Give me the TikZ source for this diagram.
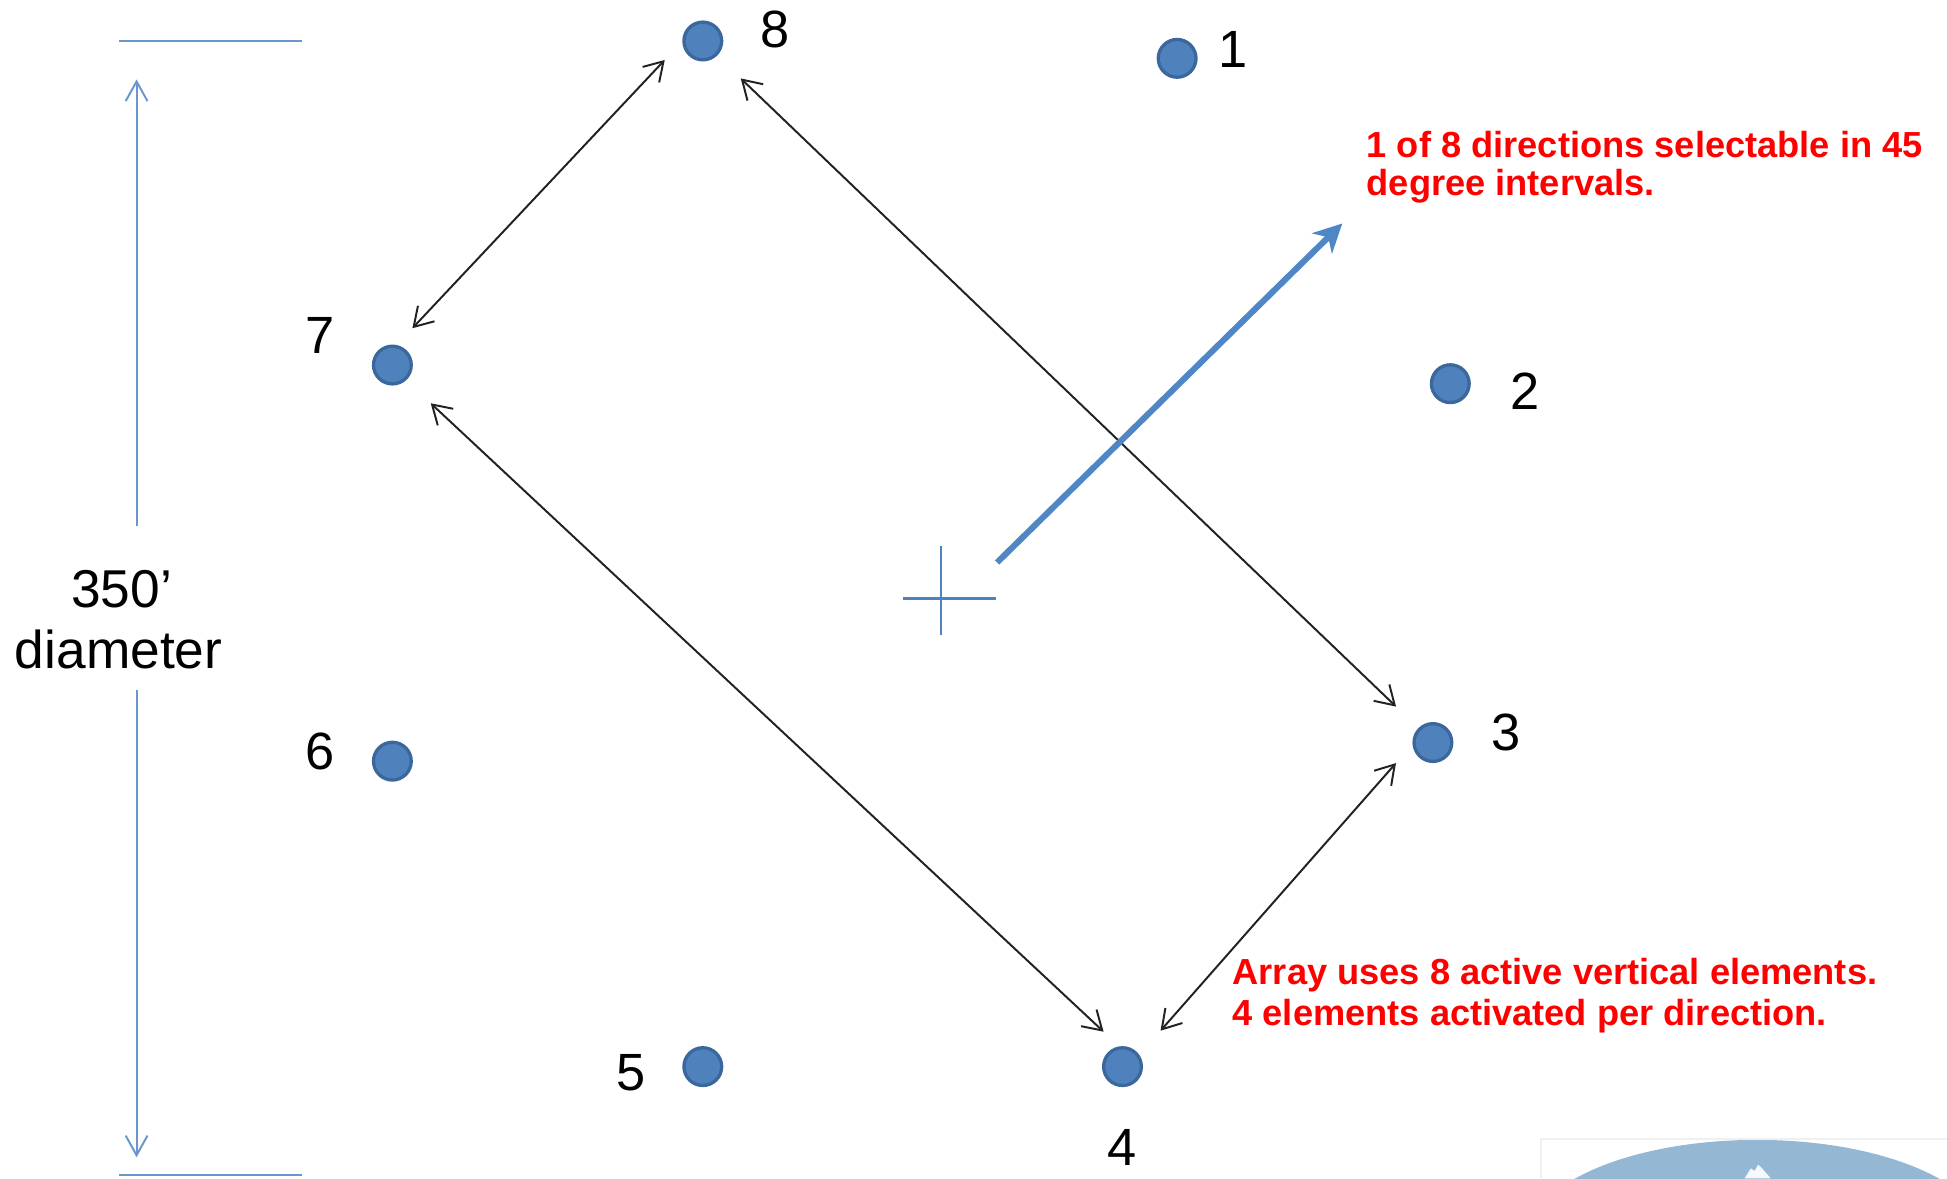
\documentclass[tikz,border=0pt]{standalone}
\usepackage{fontspec}
\setmainfont{Liberation Sans}
\usetikzlibrary{arrows.meta}
\definecolor{dotfill}{HTML}{4F81BD}
\definecolor{dotline}{HTML}{3A679C}
\definecolor{dimblue}{HTML}{6A96CE}
\definecolor{bigblue}{HTML}{4F86C6}
\definecolor{arrowgray}{HTML}{222222}
\definecolor{pictblue}{HTML}{94B7D4}
\definecolor{redtext}{HTML}{FF0000}
\tikzset{
  dotnode/.style={circle, fill=dotfill, draw=dotline, line width=0.75pt, minimum size=0.304cm, inner sep=0pt},
  numlabel/.style={font=\fontsize{12pt}{14pt}\selectfont, inner sep=0pt, text=black},
  dimtext/.style={font=\fontsize{12.2pt}{14pt}\selectfont, inner sep=0pt, text=black, anchor=base},
  redline/.style={font=\fontsize{8.3pt}{9.5pt}\selectfont\bfseries, inner sep=0pt, text=redtext, anchor=base west},
  dblarrow/.style={draw=arrowgray, line width=0.45pt, {Straight Barb[length=4.2pt,width=5.2pt]}-{Straight Barb[length=4.2pt,width=5.2pt]}},
  dimline/.style={draw=dimblue, line width=0.45pt},
  dimarrow/.style={draw=dimblue, line width=0.45pt, -{Straight Barb[length=4.5pt,width=5pt]}},
  crossline/.style={draw=dotfill, line width=0.5pt},
  bigarrow/.style={draw=bigblue, line width=1.4pt, -{Stealth[length=6.5pt,width=6.5pt,inset=2pt]}}
}
\begin{document}
\begin{tikzpicture}[x=0.01cm,y=-0.01cm]
\useasboundingbox (0,0) rectangle (1568,949);
% partial picture at bottom right
\begin{scope}
\clip (1241,917) rectangle (1568,949);
\fill[pictblue] (1415,998) ellipse [x radius=185, y radius=80];
\fill[white!92!pictblue] (1405,949) -- (1410,941) -- (1413,943) -- (1416,938) -- (1420,942) -- (1426,949) -- cycle;
\end{scope}
\draw[gray!12, line width=0.4pt] (1241,949) -- (1241,917) -- (1568,917);
% dimension
\coordinate (dimtopL) at (96,33);
\coordinate (dimtopR) at (243,33);
\coordinate (dimbotL) at (96,946);
\coordinate (dimbotR) at (243,946);
\coordinate (dimupS) at (110,424);
\coordinate (dimupE) at (110,64);
\coordinate (dimdnS) at (110,556);
\coordinate (dimdnE) at (110,932);
\draw[dimline] (dimtopL) -- (dimtopR);
\draw[dimline] (dimbotL) -- (dimbotR);
\draw[dimarrow] (dimupS) -- (dimupE);
\draw[dimarrow] (dimdnS) -- (dimdnE);
\node[dimtext] (t350) at (98,489) {350’};
\node[dimtext] (tdiam) at (95.5,538) {diameter};
% dots
\node[dotnode] (d1) at (948,47) {};
\node[dotnode] (d2) at (1168,309) {};
\node[dotnode] (d3) at (1154,598) {};
\node[dotnode] (d4) at (904,859) {};
\node[dotnode] (d5) at (566,859) {};
\node[dotnode] (d6) at (316,613) {};
\node[dotnode] (d7) at (316,294) {};
\node[dotnode] (d8) at (566,33) {};
% labels
\node[numlabel] (l1) at (993,40) {1};
\node[numlabel] (l2) at (1228,315) {2};
\node[numlabel] (l3) at (1213,590) {3};
\node[numlabel] (l4) at (904,924) {4};
\node[numlabel] (l5) at (508,864) {5};
\node[numlabel] (l6) at (258,605) {6};
\node[numlabel] (l7) at (258,270) {7};
\node[numlabel] (l8) at (624,24) {8};
% double arrows
\draw[dblarrow, shorten <=0.185cm, shorten >=0.206cm] (d7.78.3) -- (d8.181.1);
\draw[dblarrow, shorten <=0.264cm, shorten >=0.249cm] (d8.314.3) -- (d3.135.2);
\draw[dblarrow, shorten <=0.271cm, shorten >=0.173cm] (d7.312.8) -- (d4.99.3);
\draw[dblarrow, shorten <=0.201cm, shorten >=0.259cm] (d3.185.6) -- (d4.35.3);
% centre cross
\coordinate (cxL) at (727,482);
\coordinate (cxR) at (802,482);
\coordinate (cxT) at (758,440);
\coordinate (cxB) at (758,511);
\draw[crossline] (cxL) -- (cxR);
\draw[crossline] (cxT) -- (cxB);
% big direction arrow
\coordinate (bigS) at (803,453);
\coordinate (bigE) at (1081,180);
\draw[bigarrow] (bigS) -- (bigE);
% red texts
\node[redline] (r1a) at (1100,126.5) {1 of 8 directions selectable in 45};
\node[redline] (r1b) at (1100,157.5) {degree intervals.};
\node[redline] (r2a) at (992,793) {Array uses 8 active vertical elements.};
\node[redline] (r2b) at (992,825.5) {4 elements activated per direction.};
\end{tikzpicture}
\end{document}
